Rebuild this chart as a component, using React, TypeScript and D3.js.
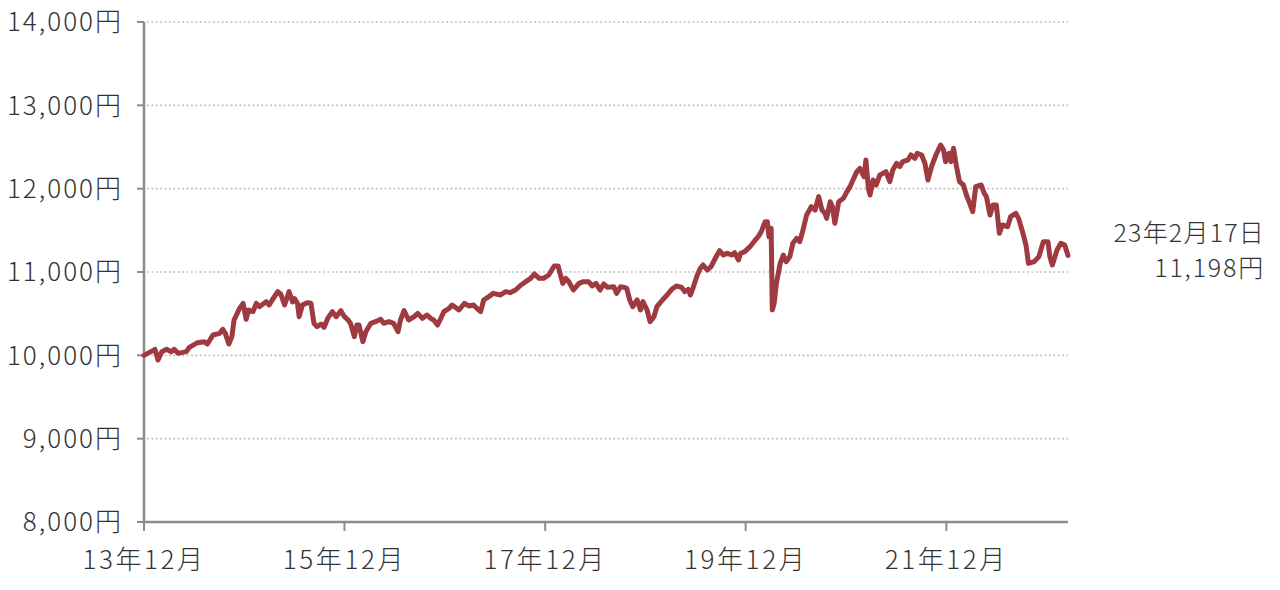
import React from "react";
import * as d3 from "d3";

const dates: string[] = [
  "2013-12-01","2014-01-10","2014-01-21","2014-02-04","2014-02-21","2014-03-10","2014-03-21","2014-04-04","2014-05-04","2014-05-15",
  "2014-06-14","2014-07-09","2014-07-20","2014-08-09","2014-09-03","2014-09-14","2014-09-23","2014-10-06","2014-10-17","2014-10-25",
  "2014-11-14","2014-11-27","2014-12-08","2014-12-17","2015-01-02","2015-01-14","2015-01-25","2015-02-19","2015-03-02","2015-03-13",
  "2015-04-02","2015-04-13","2015-04-27","2015-05-13","2015-05-26","2015-06-02","2015-06-13","2015-06-19","2015-07-01","2015-07-18",
  "2015-08-01","2015-08-12","2015-08-23","2015-09-07","2015-09-18","2015-10-01","2015-10-18","2015-11-01","2015-11-18","2015-12-01",
  "2015-12-12","2015-12-23","2016-01-06","2016-01-15","2016-01-23","2016-02-06","2016-02-17","2016-03-06","2016-03-23","2016-04-11",
  "2016-04-22","2016-05-11","2016-05-28","2016-06-13","2016-06-22","2016-07-05","2016-07-22","2016-08-11","2016-08-24","2016-09-10",
  "2016-09-27","2016-10-10","2016-10-21","2016-11-04","2016-11-16","2016-11-27","2016-12-16","2016-12-27","2017-01-21","2017-02-10",
  "2017-02-27","2017-03-15","2017-03-27","2017-04-10","2017-04-21","2017-05-10","2017-05-26","2017-06-21","2017-07-10","2017-07-26",
  "2017-08-15","2017-09-04","2017-09-21","2017-10-09","2017-10-23","2017-11-09","2017-11-25","2017-12-14","2018-01-03","2018-01-17",
  "2018-02-03","2018-02-14","2018-02-25","2018-03-14","2018-04-03","2018-04-19","2018-05-08","2018-05-21","2018-06-04","2018-06-19",
  "2018-07-02","2018-07-16","2018-08-08","2018-08-18","2018-09-02","2018-09-15","2018-09-24","2018-10-05","2018-10-16","2018-11-01",
  "2018-11-13","2018-11-22","2018-12-07","2018-12-18","2019-01-01","2019-01-12","2019-02-01","2019-02-18","2019-03-07","2019-03-24",
  "2019-04-12","2019-04-23","2019-05-06","2019-05-14","2019-05-23","2019-06-08","2019-06-19","2019-06-29","2019-07-14","2019-07-28",
  "2019-08-17","2019-08-28","2019-09-11","2019-09-25","2019-10-11","2019-10-22","2019-11-05","2019-11-13","2019-11-28","2019-12-17",
  "2020-01-05","2020-01-16","2020-01-27","2020-02-10","2020-02-18","2020-02-24","2020-03-03","2020-03-07","2020-03-14","2020-03-22",
  "2020-04-05","2020-04-16","2020-04-27","2020-05-10","2020-05-21","2020-06-04","2020-06-15","2020-06-27","2020-07-10","2020-07-27",
  "2020-08-10","2020-08-23","2020-09-04","2020-09-15","2020-09-21","2020-10-04","2020-10-12","2020-10-21","2020-11-04","2020-11-21",
  "2020-12-04","2020-12-15","2020-12-26","2021-01-09","2021-01-20","2021-02-04","2021-02-11","2021-02-20","2021-02-26","2021-03-09",
  "2021-03-20","2021-04-03","2021-04-14","2021-04-25","2021-05-09","2021-05-20","2021-06-03","2021-06-14","2021-06-25","2021-07-14",
  "2021-07-25","2021-08-08","2021-08-17","2021-09-02","2021-09-14","2021-09-25","2021-10-08","2021-10-24","2021-11-10","2021-11-21",
  "2021-11-28","2021-12-11","2021-12-18","2021-12-27","2022-01-07","2022-01-18","2022-02-01","2022-02-12","2022-02-24","2022-03-07",
  "2022-03-18","2022-04-07","2022-04-18","2022-04-26","2022-05-09","2022-05-20","2022-06-01","2022-06-12","2022-06-23","2022-07-12",
  "2022-07-23","2022-08-11","2022-08-21","2022-09-06","2022-09-17","2022-09-26","2022-10-17","2022-11-03","2022-11-19","2022-12-06",
  "2022-12-13","2022-12-22","2023-01-08","2023-01-22","2023-02-05","2023-02-17"
];

const values: number[] = [
  10000,10072,9944,10044,10072,10044,10072,10024,10044,10096,
  10152,10164,10136,10244,10264,10312,10264,10136,10224,10424,
  10564,10624,10432,10544,10524,10624,10584,10644,10604,10664,
  10764,10736,10604,10764,10640,10680,10624,10464,10604,10632,
  10624,10384,10344,10376,10336,10444,10524,10464,10536,10464,
  10432,10384,10224,10364,10364,10164,10284,10384,10404,10432,
  10384,10404,10384,10284,10424,10536,10424,10464,10504,10444,
  10484,10444,10424,10364,10444,10524,10564,10604,10544,10624,
  10592,10604,10564,10524,10664,10704,10744,10724,10764,10752,
  10784,10844,10884,10924,10976,10924,10924,10964,11072,11072,
  10864,10924,10884,10784,10864,10884,10884,10832,10864,10784,
  10856,10816,10824,10744,10824,10816,10804,10664,10584,10664,
  10544,10644,10544,10404,10464,10584,10664,10724,10792,10832,
  10816,10764,10792,10724,10804,10964,11044,11084,11024,11064,
  11192,11256,11204,11224,11204,11232,11144,11224,11244,11304,
  11384,11424,11484,11604,11604,11424,11524,10544,10624,10864,
  11104,11204,11124,11184,11344,11404,11364,11504,11684,11784,
  11744,11904,11744,11704,11644,11844,11784,11584,11844,11884,
  11964,12024,12104,12204,12244,12144,12344,12004,11924,12104,
  12044,12164,12184,12204,12084,12224,12304,12264,12324,12344,
  12404,12364,12424,12404,12304,12104,12264,12404,12524,12464,
  12324,12424,12324,12484,12264,12084,12044,11924,11824,11724,
  12024,12044,11944,11904,11684,11804,11804,11464,11564,11544,
  11664,11704,11644,11464,11324,11104,11124,11184,11364,11364,
  11184,11084,11264,11344,11324,11198
];

const yTicks: number[] = [8000, 9000, 10000, 11000, 12000, 13000, 14000];
const xTickDates: string[] = ["2013-12-01", "2015-12-01", "2017-12-01", "2019-12-01", "2021-12-01"];
const xTickLabels: string[] = ["13年12月", "15年12月", "17年12月", "19年12月", "21年12月"];
const domainStart = "2013-12-01";
const domainEnd = "2023-02-17";
const endDateLabel = "23年2月17日";
const endValueLabel = "11,198円";

const W = 1280;
const H = 590;
const left = 144;
const right = 1068;
const top = 22;
const bottom = 522;

const FONT = "'Noto Sans CJK JP', 'Noto Sans', sans-serif";
const TEXT = "#333333";
const AXIS = "#8c8c8c";

export default function App() {
  const parse = d3.utcParse("%Y-%m-%d");
  const x = d3.scaleUtc().domain([parse(domainStart)!, parse(domainEnd)!]).range([left, right]);
  const y = d3.scaleLinear().domain([8000, 14000]).range([bottom, top]);
  const data = dates.map((d, i) => ({ date: parse(d)!, value: values[i] }));
  const line = d3
    .line<{ date: Date; value: number }>()
    .x((d) => x(d.date))
    .y((d) => y(d.value));
  const fmt = d3.format(",");

  return (
    <svg
      width={W}
      height={H}
      style={{ position: "absolute", left: 0, top: 0, display: "block", background: "#fff" }}
    >
      {yTicks
        .filter((t) => t > 8000)
        .map((t) => (
          <line
            key={"g" + t}
            x1={left + 3}
            x2={right}
            y1={y(t)}
            y2={y(t)}
            stroke="#bdbdbd"
            strokeWidth={1.6}
            strokeDasharray="1.8 2.6"
          />
        ))}
      <line x1={left} x2={left} y1={top} y2={bottom} stroke={AXIS} strokeWidth={2.5} />
      {yTicks.map((t) => (
        <line key={"yt" + t} x1={left - 7} x2={left} y1={y(t)} y2={y(t)} stroke={AXIS} strokeWidth={2} />
      ))}
      <line x1={left - 1} x2={right} y1={bottom} y2={bottom} stroke={AXIS} strokeWidth={2.5} />
      {xTickDates.map((d) => (
        <line key={"xt" + d} x1={x(parse(d)!)} x2={x(parse(d)!)} y1={bottom} y2={bottom + 9} stroke={AXIS} strokeWidth={2} />
      ))}
      {yTicks.map((t) => (
        <text
          key={"yl" + t}
          x={123}
          y={y(t)}
          dy="0.36em"
          textAnchor="end"
          fontFamily={FONT}
          fontSize={26}
          fontWeight={300}
          letterSpacing={2}
          fill={TEXT}
        >
          {fmt(t) + "円"}
        </text>
      ))}
      {xTickDates.map((d, i) => (
        <text
          key={"xl" + d}
          x={x(parse(d)!)}
          y={569}
          textAnchor="middle"
          fontFamily={FONT}
          fontSize={26}
          fontWeight={300}
          letterSpacing={2.6}
          fill={TEXT}
        >
          {xTickLabels[i]}
        </text>
      ))}
      <path
        d={line(data) || ""}
        fill="none"
        stroke="#9e3a40"
        strokeWidth={5}
        strokeLinejoin="round"
        strokeLinecap="round"
      />
      <text x={1265} y={233} dy="0.36em" textAnchor="end" fontFamily={FONT} fontSize={25} fontWeight={300} letterSpacing={1.2} fill={TEXT}>
        {endDateLabel}
      </text>
      <text x={1265} y={268} dy="0.36em" textAnchor="end" fontFamily={FONT} fontSize={25} fontWeight={300} letterSpacing={1.8} fill={TEXT}>
        {endValueLabel}
      </text>
    </svg>
  );
}
